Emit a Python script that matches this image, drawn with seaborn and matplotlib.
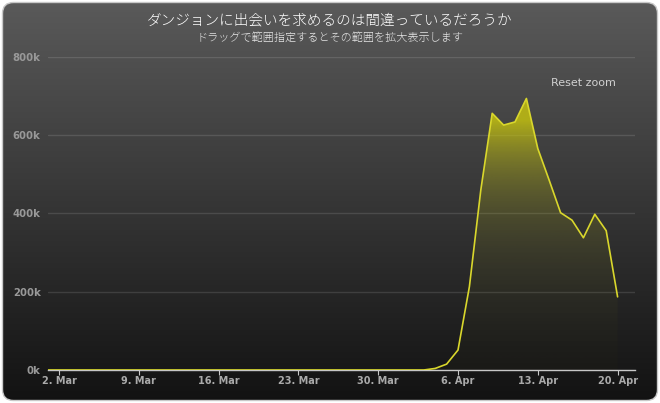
import numpy as np
import pandas as pd
import seaborn as sns
import matplotlib.pyplot as plt
import matplotlib.dates as mdates
from matplotlib.patches import FancyBboxPatch

# ============================================================
# Data
# ============================================================

title = "ダンジョンに出会いを求めるのは間違っているだろうか"
subtitle = "ドラッグで範囲指定するとその範囲を拡大表示します"

dates = pd.date_range("2015-03-01", "2015-04-20", freq="D")
views = [
    # March 1 - 31
    0, 0, 0, 0, 0, 0, 0, 0, 0, 0,
    0, 0, 0, 0, 0, 0, 0, 0, 0, 0,
    0, 0, 0, 0, 0, 0, 0, 0, 0, 0, 0,
    # April 1 - 20
    0, 0, 0, 4000, 15000, 51000, 213000, 460000, 656000, 626000,
    634000, 694000, 566000, 485000, 402000, 383000, 338000, 398000, 356000, 187000,
]

tick_dates = pd.to_datetime(["2015-03-02", "2015-03-09", "2015-03-16", "2015-03-23",
                             "2015-03-30", "2015-04-06", "2015-04-13", "2015-04-20"])
tick_labels = [f"{d.day}. {d.strftime('%b')}" for d in tick_dates]
y_ticks = [0, 200000, 400000, 600000, 800000]
y_labels = ["0k", "200k", "400k", "600k", "800k"]

df = pd.DataFrame({"date": dates, "views": views})

# ============================================================
# Figure + dark rounded background
# ============================================================

sns.set_theme(style="dark")
plt.rcParams["font.family"] = ["DejaVu Sans"]

W, H = 660, 403
fig = plt.figure(figsize=(W / 100, H / 100), dpi=100)
fig.patch.set_facecolor("white")

bg = fig.add_axes([0, 0, 1, 1], zorder=0)
bg.set_xlim(0, W)
bg.set_ylim(H, 0)
bg.axis("off")
box = FancyBboxPatch((2.5, 2.5), W - 5, H - 5, boxstyle="round,pad=0,rounding_size=11",
                     facecolor="none", edgecolor="#c8c8c8", lw=1, zorder=2)
bg.add_patch(box)
shade = np.linspace(90, 18, 256) / 255.0
grad = np.stack([shade, shade, shade], axis=-1).reshape(256, 1, 3)
im_bg = bg.imshow(grad, extent=(0, W, H, 0), aspect="auto", zorder=1)
im_bg.set_clip_path(box)

# ============================================================
# Plot area
# ============================================================

left_px, right_px, top_px, bottom_px = 47.6, 634.7, 57, 370
ax = fig.add_axes([left_px / W, 1 - bottom_px / H,
                   (right_px - left_px) / W, (bottom_px - top_px) / H], zorder=1)
ax.patch.set_alpha(0)

x0 = mdates.date2num(pd.Timestamp("2015-03-01"))
x1 = x0 + 51.5

# gradient fill under the line
s = np.linspace(1, 0, 400)
alpha = np.clip(0.012 * np.exp(5.3 * s), 0, 0.82)
fill_img = np.zeros((400, 1, 4))
fill_img[..., 0] = 200 / 255
fill_img[..., 1] = 197 / 255
fill_img[..., 2] = 14 / 255
fill_img[..., 3] = alpha[:, None]
poly = ax.fill_between(df["date"], df["views"], 0, color="none", lw=0)
im = ax.imshow(fill_img, extent=(x0, x1, 0, 800000), aspect="auto", zorder=2)
im.set_clip_path(poly.get_paths()[0], ax.transData)

sns.lineplot(data=df, x="date", y="views", color="#d9d72c", lw=1.2, ax=ax, zorder=3)

ax.set_xlim(x0, x1)
ax.set_ylim(0, 800000)
ax.set_xlabel("")
ax.set_ylabel("")

ax.set_axisbelow(True)
ax.yaxis.grid(True, color="white", alpha=0.12, lw=1)
ax.xaxis.grid(False)
for side in ["left", "top", "right"]:
    ax.spines[side].set_visible(False)
ax.spines["bottom"].set_color("#c8c8c8")
ax.spines["bottom"].set_linewidth(1)
ax.spines["bottom"].set_zorder(2.5)

ax.set_xticks(tick_dates, labels=tick_labels, fontweight="bold", fontsize=7, color="#aaaaaa")
ax.tick_params(axis="x", direction="out", length=3.5, width=0.8, color="#c8c8c8", pad=1, bottom=True)
ax.set_yticks(y_ticks, labels=y_labels, fontweight="bold", fontsize=7.3, color="#999999")
ax.tick_params(axis="y", length=0, pad=5)

# ============================================================
# Titles
# ============================================================

jp = ["Noto Sans CJK JP", "DejaVu Sans"]
fig.text(0.5, 1 - 20 / H, title, ha="center", va="center", fontsize=10.5, color="white",
         family=jp, fontweight="light")
fig.text(0.5, 1 - 38 / H, subtitle, ha="center", va="center", fontsize=8, color="#e6e6e6",
         family=jp, fontweight="light")
fig.text(583 / W, 1 - 83 / H, "Reset zoom", ha="center", va="center", fontsize=8, color="#d0d0d0")

fig.savefig("out.png", dpi=100)
